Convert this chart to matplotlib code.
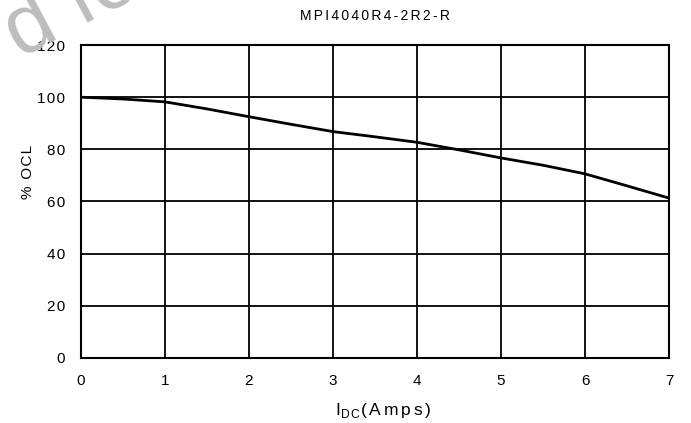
import matplotlib
matplotlib.use('Agg')
import matplotlib.pyplot as plt

# I_DC (Amps) vs % OCL
idc = [0, 0.5, 1, 1.5, 2, 2.5, 3, 3.5, 4, 4.5, 5, 5.5, 6, 6.5, 7]
ocl = [100, 99.3, 98.2, 95.5, 92.5, 89.6, 86.8, 84.8, 82.7, 79.8, 76.7, 73.9, 70.6, 66.0, 61.3]

x_ticks = list(range(0, 8))
y_ticks = list(range(0, 121, 20))

plt.rcParams['font.family'] = ['Liberation Sans', 'DejaVu Sans']

HAIR = '\u200a'
SIXTH = '\u2006'


def spaced(s, sp):
    # the original uses wide letter spacing
    return sp.join(s)


fig = plt.figure(figsize=(6.91, 4.23), dpi=100)
ax = fig.add_axes([0.1172, 0.1537, 0.851, 0.7399])

# watermark (mostly cut off by the figure edge)
fig.text(-0.012, 0.865, 'd for', rotation=28, color='#bdbdbd', fontsize=60,
         ha='left', va='baseline', zorder=0)

ax.plot(idc, ocl, color='black', lw=2.0, zorder=3)

ax.set_xlim(0, 7)
ax.set_ylim(0, 120)
ax.set_xticks(x_ticks)
ax.set_yticks(y_ticks)
ax.set_xticklabels([spaced(str(t), HAIR) for t in x_ticks])
ax.set_yticklabels([spaced(str(t), HAIR) for t in y_ticks])
ax.grid(True, color='black', lw=1.3)
for s in ax.spines.values():
    s.set_color('black')
    s.set_linewidth(1.5)
ax.tick_params(length=0, labelsize=11, pad=11.5)
ax.patch.set_alpha(0)

ax.set_title(spaced('MPI4040R4-2R2-R', SIXTH), fontsize=10, pad=18)
ax.set_xlabel('I$_{\\mathregular{D\\,C}}$' + spaced('(Amps)', SIXTH), fontsize=12.5)
ax.set_ylabel(spaced('% OCL', HAIR), fontsize=11)
ax.yaxis.set_label_coords(-0.078, 0.594)
ax.xaxis.set_label_coords(0.514, -0.138)

fig.savefig('out.png', dpi=100, facecolor='white')
